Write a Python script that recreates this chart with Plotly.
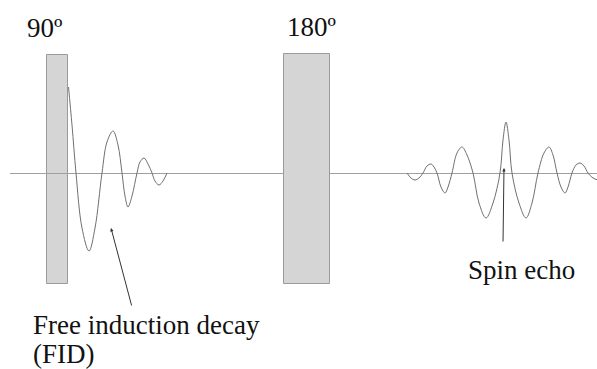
import plotly.graph_objects as go

# Diagram units: horizontal time position, vertical position (downward, page-like)
pulse_labels = ["90º", "180º"]
pulse_label_x = [44, 311]
pulse_start = [47, 284]
pulse_end = [68, 330]
pulse_top = [55, 54]
pulse_bottom = [284, 284]

baseline_x = [10, 284, None, 330, 597]
baseline_y = [173.5, 173.5, None, 173.5, 173.5]

fid_x = [68.5, 72, 76, 82, 89, 95, 102, 107, 113, 118, 122, 125, 128, 132, 137, 140, 144, 148, 152, 155, 159, 163, 167]
fid_y = [87, 125, 173, 228, 251, 228, 173, 142, 131, 145, 173, 196, 207, 196, 173, 162, 158, 164, 173, 181, 185, 181, 173]

echo_x = [407, 411, 415, 419, 423, 427, 431, 434, 437, 441, 445, 448, 452, 457, 462, 467, 473, 479, 486, 493, 500, 503, 506, 509, 512, 519, 526, 532, 538, 544, 549, 553, 557, 561, 565, 568, 572, 576, 580, 584, 588, 593, 598]
echo_y = [173, 178, 180, 178, 173, 166, 164, 167, 173, 187, 193, 187, 173, 153, 147, 155, 173, 203, 218, 203, 173, 140, 122, 140, 173, 203, 218, 203, 173, 153, 147, 155, 173, 187, 193, 187, 173, 165, 163, 166, 173, 178, 180]

fid_label = ["Free induction decay", "(FID)"]
echo_label = "Spin echo"

SERIF = "Liberation Serif, Times New Roman, Times, serif"

fig = go.Figure()

for lab, lx, s, e, t, b in zip(pulse_labels, pulse_label_x, pulse_start, pulse_end, pulse_top, pulse_bottom):
    fig.add_trace(go.Bar(
        x=[(s + e) / 2], y=[b - t], base=[t], width=[e - s],
        marker=dict(color="#d5d5d5", line=dict(color="#9a9a9a", width=1)),
        hoverinfo="skip", showlegend=False,
    ))
    fig.add_annotation(x=lx, y=t - 27, text=lab, showarrow=False,
                       xanchor="center", yanchor="middle",
                       font=dict(family=SERIF, size=27, color="#111"))

fig.add_trace(go.Scatter(x=baseline_x, y=baseline_y, mode="lines",
                         line=dict(color="#a0a0a0", width=1), hoverinfo="skip", showlegend=False))
fig.add_trace(go.Scatter(x=fid_x, y=fid_y, mode="lines", line=dict(color="#707070", width=1, shape="spline", smoothing=1.0),
                         hoverinfo="skip", showlegend=False))
fig.add_trace(go.Scatter(x=echo_x, y=echo_y, mode="lines", line=dict(color="#707070", width=1, shape="spline", smoothing=1.0),
                         hoverinfo="skip", showlegend=False))

# arrows
fig.add_annotation(x=111, y=228, ax=132, ay=307, axref="x", ayref="y", xref="x", yref="y",
                   showarrow=True, arrowhead=2, arrowsize=0.7, arrowwidth=1, arrowcolor="#333", text="")
fig.add_annotation(x=504, y=168, ax=503, ay=243, axref="x", ayref="y", xref="x", yref="y",
                   showarrow=True, arrowhead=2, arrowsize=0.7, arrowwidth=1, arrowcolor="#333", text="")

fig.add_annotation(x=31, y=325, text=fid_label[0], showarrow=False, xanchor="left", yanchor="middle",
                   font=dict(family=SERIF, size=27, color="#111"))
fig.add_annotation(x=31, y=354, text=fid_label[1], showarrow=False, xanchor="left", yanchor="middle",
                   font=dict(family=SERIF, size=27, color="#111"))
fig.add_annotation(x=466, y=270, text=echo_label, showarrow=False, xanchor="left", yanchor="middle",
                   font=dict(family=SERIF, size=27, color="#111"))

fig.update_layout(
    width=597, height=369, margin=dict(l=0, r=0, t=0, b=0),
    paper_bgcolor="white", plot_bgcolor="white", bargap=0,
    xaxis=dict(range=[0, 597], visible=False, fixedrange=True),
    yaxis=dict(range=[369, 0], visible=False, fixedrange=True),
)
fig.write_html("out.html")
